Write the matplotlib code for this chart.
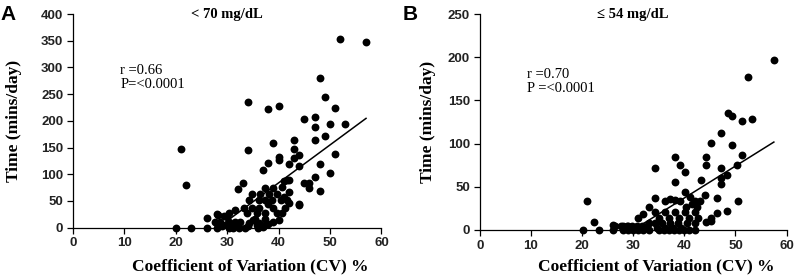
import matplotlib
matplotlib.use("Agg")
import matplotlib.pyplot as plt
import numpy as np

# panel A: time < 70 mg/dL
cv_a = [52, 57, 48, 49, 51, 34, 38, 40, 45, 47, 47, 50, 53, 49, 47, 43, 39, 34, 43,
        40, 40, 38, 44, 43, 42, 51, 48, 50, 47, 44, 37, 45, 46, 46, 48, 44, 33, 32,
        21, 22, 20, 23, 26, 26, 28, 28,
        41, 42, 39, 37.4, 40.6, 41.6, 42, 34.8, 36.4, 38.1, 39.7, 41,
        34.2, 36.1, 37.4, 38.7, 40.4, 41.6, 43.9, 33.2, 34.8, 36.1, 39, 41.3,
        31.6, 30.3, 33.8, 35.8, 37.4, 39.7, 40.6, 28.3, 29.3, 35.5, 37.4, 39,
        27.7, 28.6, 30.3, 31.6, 32.5, 34.2, 36.1, 30.3, 31.2, 32.2, 33.4,
        35.8, 37.4, 29, 30, 31, 32, 34, 36, 37, 38, 30, 35, 38, 40, 42]
time_a = [354, 347, 281, 244, 225, 235, 223, 228, 203, 207, 188, 194, 194, 172, 165,
          165, 159, 146, 147, 132, 127, 122, 136, 130, 120, 138, 119, 103, 94, 116,
          108, 84, 84, 74, 68, 43, 84, 72,
          148, 80, 0, 0, 0, 19, 0, 25,
          88, 89, 74, 74, 77, 89, 67, 63, 63, 63, 63, 58,
          52, 52, 52, 52, 52, 52, 44, 37, 37, 37, 37, 37,
          33, 28, 27, 27, 27, 27, 27, 24, 21, 17, 17, 11,
          10, 10, 10, 10, 10, 9, 9, 0, 0, 0, 0,
          5, 5, 3, 5, 2, 4, 3, 0, 2, 6, 20, 14, 44, 15, 46]

# panel B: time <= 54 mg/dL
cv_b = [57.5, 52.4, 48.5, 49.4, 51.3, 53.3, 47.2, 45.3, 49.4, 44.3, 44.3, 51.3,
        47.2, 50.3, 38.2, 39.2, 40.2, 43.2, 47.2, 47.2, 48.3, 46.3, 46.3, 45.3,
        44.3, 48.3, 50.5, 21, 22.3, 20.1, 23.4, 26.1, 26.1, 28.1, 28.1, 29, 29,
        34.3, 38.2, 34.3, 40.1, 41.1, 42.1, 43.1, 44, 38.2, 39.1, 37.2, 36.2,
        33, 32, 31, 34.3, 36.2, 38.2, 40.1, 42.1, 35, 37, 39, 41, 42.7,
        33, 34.3, 35.6, 37.2, 38.8, 40.5, 42.1, 45.3,
        26.4, 27.7, 28.7, 29.7, 30.7, 31.7, 32.6, 34.6, 36.2, 37.8, 39.4,
        30, 31, 32, 33, 35, 36, 37, 38, 39, 40, 41, 42, 40.4, 41.4, 42.4]
time_b = [197, 177, 135, 132, 126, 128, 112, 101, 98, 84, 75, 87,
          72, 75, 84, 75, 67, 58, 53, 60, 64, 37, 20, 14,
          9, 22, 34, 33, 9, 0, 0, 6, 0, 5, 0, 4, 0,
          72, 55, 37, 44, 38, 33, 33, 41, 35, 34, 36, 34,
          26, 18, 13.5, 21, 21, 21, 21, 21, 13.5, 13.5, 13.5, 13.5, 13.5,
          7.7, 7.7, 7.7, 7.7, 7.7, 7.7, 7.7, 10,
          4, 4, 4, 4, 4, 4, 4, 2, 2, 2, 2,
          0, 0, 0, 0, 0, 0, 0, 0, 0, 0, 0, 0, 27, 30, 27]

# trend lines (slope, intercept)
fit_a = (7.1, -200)
fit_b = (3.7, -111)

panels = [
    ("A", "< 70 mg/dL", cv_a, time_a, fit_a, 400, "r =0.66\nP=<0.0001", 306,
     [0.0916, 0.175, 0.387, 0.774], -0.182, -0.19, -0.235),
    ("B", "\u2264 54 mg/dL", cv_b, time_b, fit_b, 250, "r =0.70\nP =<0.0001", 187,
     [0.602, 0.167, 0.385, 0.782], -0.171, -0.17, -0.25),
]

serif = "Liberation Serif"
sans = "Liberation Sans"

fig = plt.figure(figsize=(7.97, 2.76), dpi=100)

for (letter, title, xs, ys, fit, ymax, stat, stat_y, pos,
     xlab_y, ylab_x, letter_x) in panels:
    ax = fig.add_axes(pos)
    ax.scatter(xs, ys, s=32, color="black", linewidths=0, clip_on=False, zorder=3)
    xx = np.array([min(xs), max(xs)])
    ax.plot(xx, fit[0] * xx + fit[1], color="black", lw=1.1, zorder=2)

    ax.set_xlim(0, 60)
    ax.set_ylim(0, ymax)
    ax.set_xticks(np.arange(0, 61, 10))
    ax.set_yticks(np.arange(0, ymax + 1, 50))
    for s in ["top", "right"]:
        ax.spines[s].set_visible(False)
    ax.spines["left"].set_linewidth(0.9)
    ax.spines["bottom"].set_linewidth(0.9)
    ax.tick_params(direction="out", length=4, width=0.9, pad=3, labelsize=9.5)
    for lab in ax.get_xticklabels() + ax.get_yticklabels():
        lab.set_fontfamily(sans)
        lab.set_fontweight("bold")
        lab.set_color("#222222")

    xl = ax.set_xlabel("Coefficient of Variation (CV) %", fontfamily=serif,
                       fontweight="bold", fontsize=12.5)
    xl.set_va("center")
    ax.xaxis.set_label_coords(0.576, xlab_y)
    yl = ax.set_ylabel("Time (mins/day)", fontfamily=serif, fontweight="bold",
                       fontsize=12.5)
    yl.set_va("center")
    ax.yaxis.set_label_coords(ylab_x, 0.5)
    ax.text(30, ymax, title, ha="center", va="center", fontfamily=serif,
            fontweight="bold", fontsize=10.5)
    ax.text(9.2, stat_y, stat, ha="left", va="top", fontfamily=serif,
            fontsize=10.5, linespacing=1.1)
    ax.text(letter_x, 1.0, letter, transform=ax.transAxes, ha="left", va="center",
            fontfamily=sans, fontweight="bold", fontsize=15)

fig.savefig("out.png", dpi=100)
